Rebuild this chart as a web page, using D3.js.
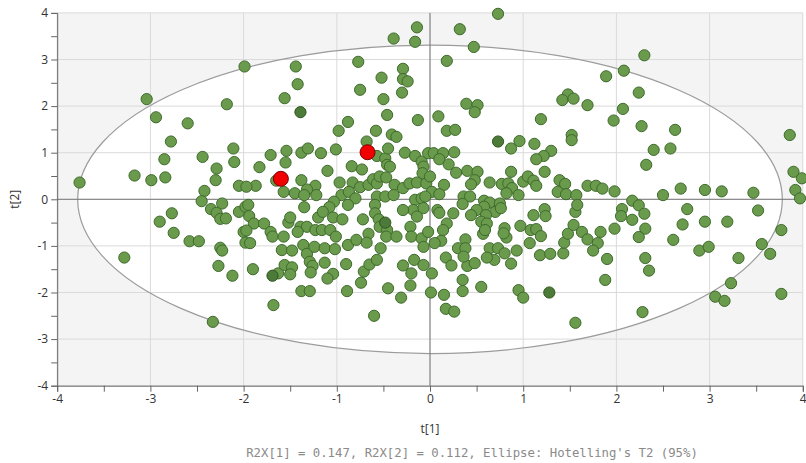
<!DOCTYPE html>
<html>
<head>
<meta charset="utf-8">
<script src="https://cdn.jsdelivr.net/npm/d3@7"></script>
<style>
  body { margin: 0; background: #fff; }
  .tick text { font-family: "Open Sans", sans-serif; font-size: 12px; fill: #333; }
</style>
</head>
<body>
<div id="chart"></div>
<script>
// scores t[1], t[2]
var t1 = [-3.04,-2.94,-2.60,-2.18,-1.99,-1.44,-1.42,-1.56,-0.77,-0.39,-0.14,-0.16,-0.52,-0.29,-0.29,-0.24,-0.30,-0.75,-0.50,-0.46,-0.13,-0.88,-0.98,-0.58,-0.41,-0.36,
  0.73,0.32,0.47,0.18,1.89,1.48,1.42,1.54,1.69,0.39,0.51,0.48,0.09,0.18,0.27,1.19,1.97,1.52,
  2.30,2.08,2.24,2.07,2.27,2.63,3.86,
  -3.76,-2.78,-2.85,-3.17,-2.99,-2.84,-2.44,-2.11,-2.10,-2.29,-2.30,-2.05,-2.42,-2.45,-2.23,-2.35,-2.29,-2.25,-2.19,-2.05,-1.98,-2.77,-2.90,-2.75,-2.58,-2.48,-2.25,-2.23,-2.00,-1.98,-2.27,-2.12,-3.28,-2.33,
  -1.71,-1.54,-1.55,-1.38,-1.31,-1.17,-1.01,-1.83,-1.10,-0.84,-0.73,-0.68,-0.57,-0.48,-0.45,-0.46,-0.43,-0.27,-0.16,-0.09,-0.07,-0.02,-0.08,
  -1.38,-1.23,-1.22,-1.32,-1.57,-1.45,-1.35,-1.65,-1.87,-1.97,-0.97,-0.83,-0.75,-0.66,-0.61,-0.57,-0.54,-0.47,-0.38,-0.29,-0.22,-0.14,-0.04,
  -0.95,-0.87,-0.80,-1.03,-1.08,-0.88,-0.57,-0.48,-0.39,-0.59,-0.16,-0.09,-0.18,-0.07,-0.29,
  -1.95,-1.94,-1.89,-1.78,-1.97,-1.71,-1.69,-1.57,-1.52,-1.50,-1.35,-1.39,-1.32,-1.42,-1.23,-1.16,-1.20,-1.15,-1.04,-0.94,-1.07,-1.01,-0.88,-0.79,-0.72,-0.66,-0.68,-0.59,-0.55,-0.54,
  -0.46,-0.47,-0.36,-0.53,-0.21,-0.14,-0.20,-0.09,-0.07,-1.93,-1.59,-1.48,-1.36,-1.32,-1.24,-1.13,-1.02,
  -1.90,-1.63,-1.56,-1.48,-1.50,-1.29,-1.26,-1.28,-1.13,-1.04,-1.10,-0.90,-1.38,-1.29,-1.68,-0.89,-0.71,-0.74,-0.65,-0.57,-0.45,-0.60,-0.29,-0.20,-0.21,-0.31,-0.17,-0.07,0.01,
  0.02,0.17,0.23,0.40,0.48,0.69,0.87,0.35,0.35,0.15,0.17,0.26,0.55,0.95,1.00,1.56,1.88,1.90,
  2.35,2.31,2.28,3.31,3.23,3.06,3.16,3.77,
  2.40,2.58,2.32,3.90,3.99,3.92,3.97,1.98,2.50,2.69,2.95,3.13,3.47,2.17,2.24,2.06,2.30,2.05,2.17,2.76,3.52,1.98,2.31,2.24,2.71,2.95,3.19,3.77,2.61,3.56,3.65,2.89,2.99,
  0.87,0.96,1.12,1.52,1.30,1.22,1.14,1.23,0.04,0.14,0.26,0.10,0.20,0.28,0.40,0.51,0.48,0.44,0.64,0.87,0.77,0.84,0.88,0.82,0.95,1.00,1.05,1.11,1.14,1.39,1.45,1.37,1.46,1.57,1.69,1.78,1.85,
  0.15,0.02,0.10,0.00,-0.05,0.36,0.43,0.35,0.58,0.64,0.75,0.58,0.70,0.76,0.50,0.44,0.60,0.55,0.61,0.08,0.10,0.25,0.18,0.14,-0.02,0.12,0.05,0.38,0.30,0.38,0.36,
  0.57,0.59,0.80,0.82,0.79,0.97,1.11,1.23,1.24,1.08,1.14,1.19,1.07,0.64,0.73,0.80,0.93,0.61,1.18,1.29,1.43,1.44,1.48,1.54,1.56,1.58,1.63,1.69,1.80,1.75,1.83];
var t2 = [2.15,1.76,1.63,2.04,2.85,2.85,2.47,2.17,2.95,3.45,3.69,3.38,2.61,2.80,2.58,2.53,2.29,2.35,2.15,1.81,1.70,1.66,1.47,1.47,1.39,1.34,
  3.98,3.65,3.27,2.97,2.64,2.25,2.13,2.16,2.02,2.05,2.02,1.87,1.78,1.47,1.49,1.72,1.69,1.38,
  3.09,2.76,2.29,1.94,1.57,1.49,1.38,
  0.36,1.24,0.86,0.51,0.41,0.47,0.91,1.09,0.80,0.66,0.41,0.29,0.18,-0.04,-0.09,-0.21,-0.29,-0.42,-0.41,-0.27,-0.16,-0.30,-0.48,-0.72,-0.90,-0.90,-1.04,-1.10,-0.70,-0.93,-1.43,-1.64,-1.25,-2.63,
  0.95,1.04,0.79,1.00,1.09,0.99,1.07,0.69,0.61,0.71,0.64,1.24,0.93,0.88,1.09,0.74,0.70,1.00,0.93,0.81,0.70,0.99,0.56,
  0.41,0.29,0.09,0.21,0.16,0.13,0.09,0.40,0.29,0.27,0.36,0.36,0.26,0.31,0.43,0.34,0.49,0.47,0.31,0.24,0.34,0.36,0.34,
  0.09,0.16,0.02,-0.05,-0.17,-0.12,0.06,0.06,0.09,-0.12,-0.01,0.02,-0.23,-0.19,-0.23,
  -0.12,-0.36,-0.52,-0.52,-0.67,-0.70,-0.80,-0.80,-0.50,-0.39,-0.17,-0.59,-0.59,-0.70,-0.66,-0.66,-0.39,-0.27,-0.39,-0.43,-0.66,-0.80,-0.98,-0.87,-0.43,-0.74,-0.93,-0.30,-0.43,-0.59,
  -0.66,-0.80,-0.80,-1.05,-0.59,-0.37,-0.80,-0.84,-1.02,-0.94,-1.09,-1.10,-0.98,-1.17,-1.02,-1.05,-1.07,
  -1.50,-1.59,-1.41,-1.46,-1.61,-1.34,-1.43,-1.57,-1.36,-1.60,-1.70,-1.39,-1.97,-1.97,-2.27,-1.97,-1.55,-1.79,-1.40,-1.30,-1.91,-2.50,-1.42,-1.59,-1.85,-2.11,-1.30,-1.41,-2.00,
  -1.59,-1.25,-1.42,-1.43,-1.37,-1.30,-1.38,-1.73,-1.97,-2.05,-2.35,-2.41,-1.88,-1.95,-2.11,-2.65,-1.73,-1.28,
  -1.53,-1.26,-2.42,-1.26,-1.80,-2.09,-2.18,-2.03,
  1.06,1.09,0.74,0.59,0.45,0.20,0.02,0.17,0.09,0.23,0.20,0.17,0.14,-0.03,-0.13,-0.21,-0.31,-0.36,-0.44,-0.21,-0.24,-0.63,-0.63,-0.81,-0.54,-0.48,-0.48,-0.66,-0.87,-0.96,-1.17,-1.10,-1.02,
  1.09,1.25,1.19,1.27,1.04,0.93,0.86,0.59,0.99,0.99,1.01,0.86,0.75,0.57,0.61,0.59,0.41,0.32,0.36,0.59,0.33,0.34,0.24,0.13,0.09,0.38,0.49,0.40,0.29,0.41,0.33,0.16,0.11,0.09,0.29,0.29,0.23,
  0.31,0.16,0.11,0.49,0.06,0.06,0.06,-0.10,-0.03,-0.07,-0.09,-0.16,-0.27,-0.19,-0.23,-0.34,-0.34,-0.48,-0.52,-0.23,-0.29,-0.30,-0.52,-0.66,-0.70,-0.89,-0.94,-0.86,-1.05,-1.05,-1.23,
  -0.74,-0.66,-0.62,-0.82,-0.73,-0.57,-0.34,-0.21,-0.36,-0.66,-0.64,-0.79,-0.94,-1.05,-1.05,-1.16,-1.10,-1.25,-1.20,-1.17,-1.16,-0.93,-0.74,-0.55,-0.27,-0.12,-0.70,-0.86,-0.94,-1.10,-0.70];

// darker shaded observations
var darkT1 = [-1.39, -0.48, -1.69, 0.73, 1.28];
var darkT2 = [1.87, -0.50, -1.64, 1.24, -2.00];

// highlighted (red) observations
var redT1 = [-1.60, -0.67];
var redT2 = [0.44, 1.01];

// Hotelling's T2 ellipse semi-axes
var ellipseA = 3.78, ellipseB = 3.31;

var xTicks = [-4, -3, -2, -1, 0, 1, 2, 3, 4];
var yTicks = [-4, -3, -2, -1, 0, 1, 2, 3, 4];
var minorTicks = d3.range(-4, 4.01, 0.5);

var footnote = "R2X[1] = 0.147, R2X[2] = 0.112, Ellipse: Hotelling's T2 (95%)";

var W = 806, H = 463;
var plotL = 57.2, plotR = 802.8, plotT = 12.9, plotB = 385.7;

var x = d3.scaleLinear().domain([-4, 4]).range([plotL, plotR]);
var y = d3.scaleLinear().domain([-4, 4]).range([plotB, plotT]);

var svg = d3.select("#chart").append("svg")
    .attr("width", W)
    .attr("height", H);

svg.append("rect")
    .attr("x", plotL).attr("y", plotT)
    .attr("width", plotR - plotL).attr("height", plotB - plotT)
    .attr("fill", "#f4f4f4");

svg.append("ellipse")
    .attr("cx", x(0)).attr("cy", y(0))
    .attr("rx", x(ellipseA) - x(0)).attr("ry", y(0) - y(ellipseB))
    .attr("fill", "#fff");

// grid
svg.append("g").selectAll("line")
    .data(xTicks)
    .enter().append("line")
    .attr("x1", function(d) { return x(d); }).attr("x2", function(d) { return x(d); })
    .attr("y1", plotT).attr("y2", plotB)
    .attr("stroke", "#dadada");
svg.append("g").selectAll("line")
    .data(yTicks)
    .enter().append("line")
    .attr("y1", function(d) { return y(d); }).attr("y2", function(d) { return y(d); })
    .attr("x1", plotL).attr("x2", plotR)
    .attr("stroke", "#dadada");

svg.append("ellipse")
    .attr("cx", x(0)).attr("cy", y(0))
    .attr("rx", x(ellipseA) - x(0)).attr("ry", y(0) - y(ellipseB))
    .attr("fill", "none")
    .attr("stroke", "#9c9c9c")
    .attr("stroke-width", 1.2);

// zero lines
svg.append("line")
    .attr("x1", x(0)).attr("x2", x(0)).attr("y1", plotT).attr("y2", plotB)
    .attr("stroke", "#777");
svg.append("line")
    .attr("y1", y(0)).attr("y2", y(0)).attr("x1", plotL).attr("x2", plotR)
    .attr("stroke", "#777");

// axes
var xAxis = d3.axisBottom(x).tickValues(minorTicks).tickSize(6)
    .tickFormat(function(d) { return d % 1 === 0 ? String(d) : ""; });
var yAxis = d3.axisLeft(y).tickValues(minorTicks).tickSize(6)
    .tickFormat(function(d) { return d % 1 === 0 ? String(d) : ""; });

svg.append("g")
    .attr("transform", "translate(0," + plotB + ")")
    .call(xAxis)
    .call(function(g) { g.selectAll("line,path").attr("stroke", "#666"); });

svg.append("g")
    .attr("transform", "translate(" + plotL + ",0)")
    .call(yAxis)
    .call(function(g) { g.selectAll("line,path").attr("stroke", "#666"); });

svg.append("text")
    .attr("x", x(0)).attr("y", 433)
    .attr("text-anchor", "middle")
    .style("font-family", "Open Sans, sans-serif").style("font-size", "12px").style("fill", "#333")
    .text("t[1]");

svg.append("text")
    .attr("transform", "translate(19," + y(0) + ") rotate(-90)")
    .attr("text-anchor", "middle")
    .style("font-family", "Open Sans, sans-serif").style("font-size", "12px").style("fill", "#333")
    .text("t[2]");

svg.append("text")
    .attr("x", 472).attr("y", 457)
    .attr("text-anchor", "middle")
    .style("font-family", "DejaVu Sans Mono, monospace").style("font-size", "12.3px").style("fill", "#8a8a8a")
    .text(footnote);

// points
var pts = t1.map(function(d, i) { return {t1: d, t2: t2[i]}; });
svg.append("g").selectAll(".dot")
    .data(pts)
    .enter().append("circle")
    .attr("class", "dot")
    .attr("r", 5.6)
    .attr("cx", function(d) { return x(d.t1); })
    .attr("cy", function(d) { return y(d.t2); })
    .attr("fill", "#6a9b4c")
    .attr("stroke", "#3e6a2c")
    .attr("stroke-width", 1);

var dark = darkT1.map(function(d, i) { return {t1: d, t2: darkT2[i]}; });
svg.append("g").selectAll(".dark")
    .data(dark)
    .enter().append("circle")
    .attr("r", 5.6)
    .attr("cx", function(d) { return x(d.t1); })
    .attr("cy", function(d) { return y(d.t2); })
    .attr("fill", "#4c7a38")
    .attr("stroke", "#2f5420")
    .attr("stroke-width", 1);

var red = redT1.map(function(d, i) { return {t1: d, t2: redT2[i]}; });
svg.append("g").selectAll(".red")
    .data(red)
    .enter().append("circle")
    .attr("r", 7.5)
    .attr("cx", function(d) { return x(d.t1); })
    .attr("cy", function(d) { return y(d.t2); })
    .attr("fill", "#f00000")
    .attr("stroke", "#7a0000")
    .attr("stroke-width", 1);
</script>
</body>
</html>
